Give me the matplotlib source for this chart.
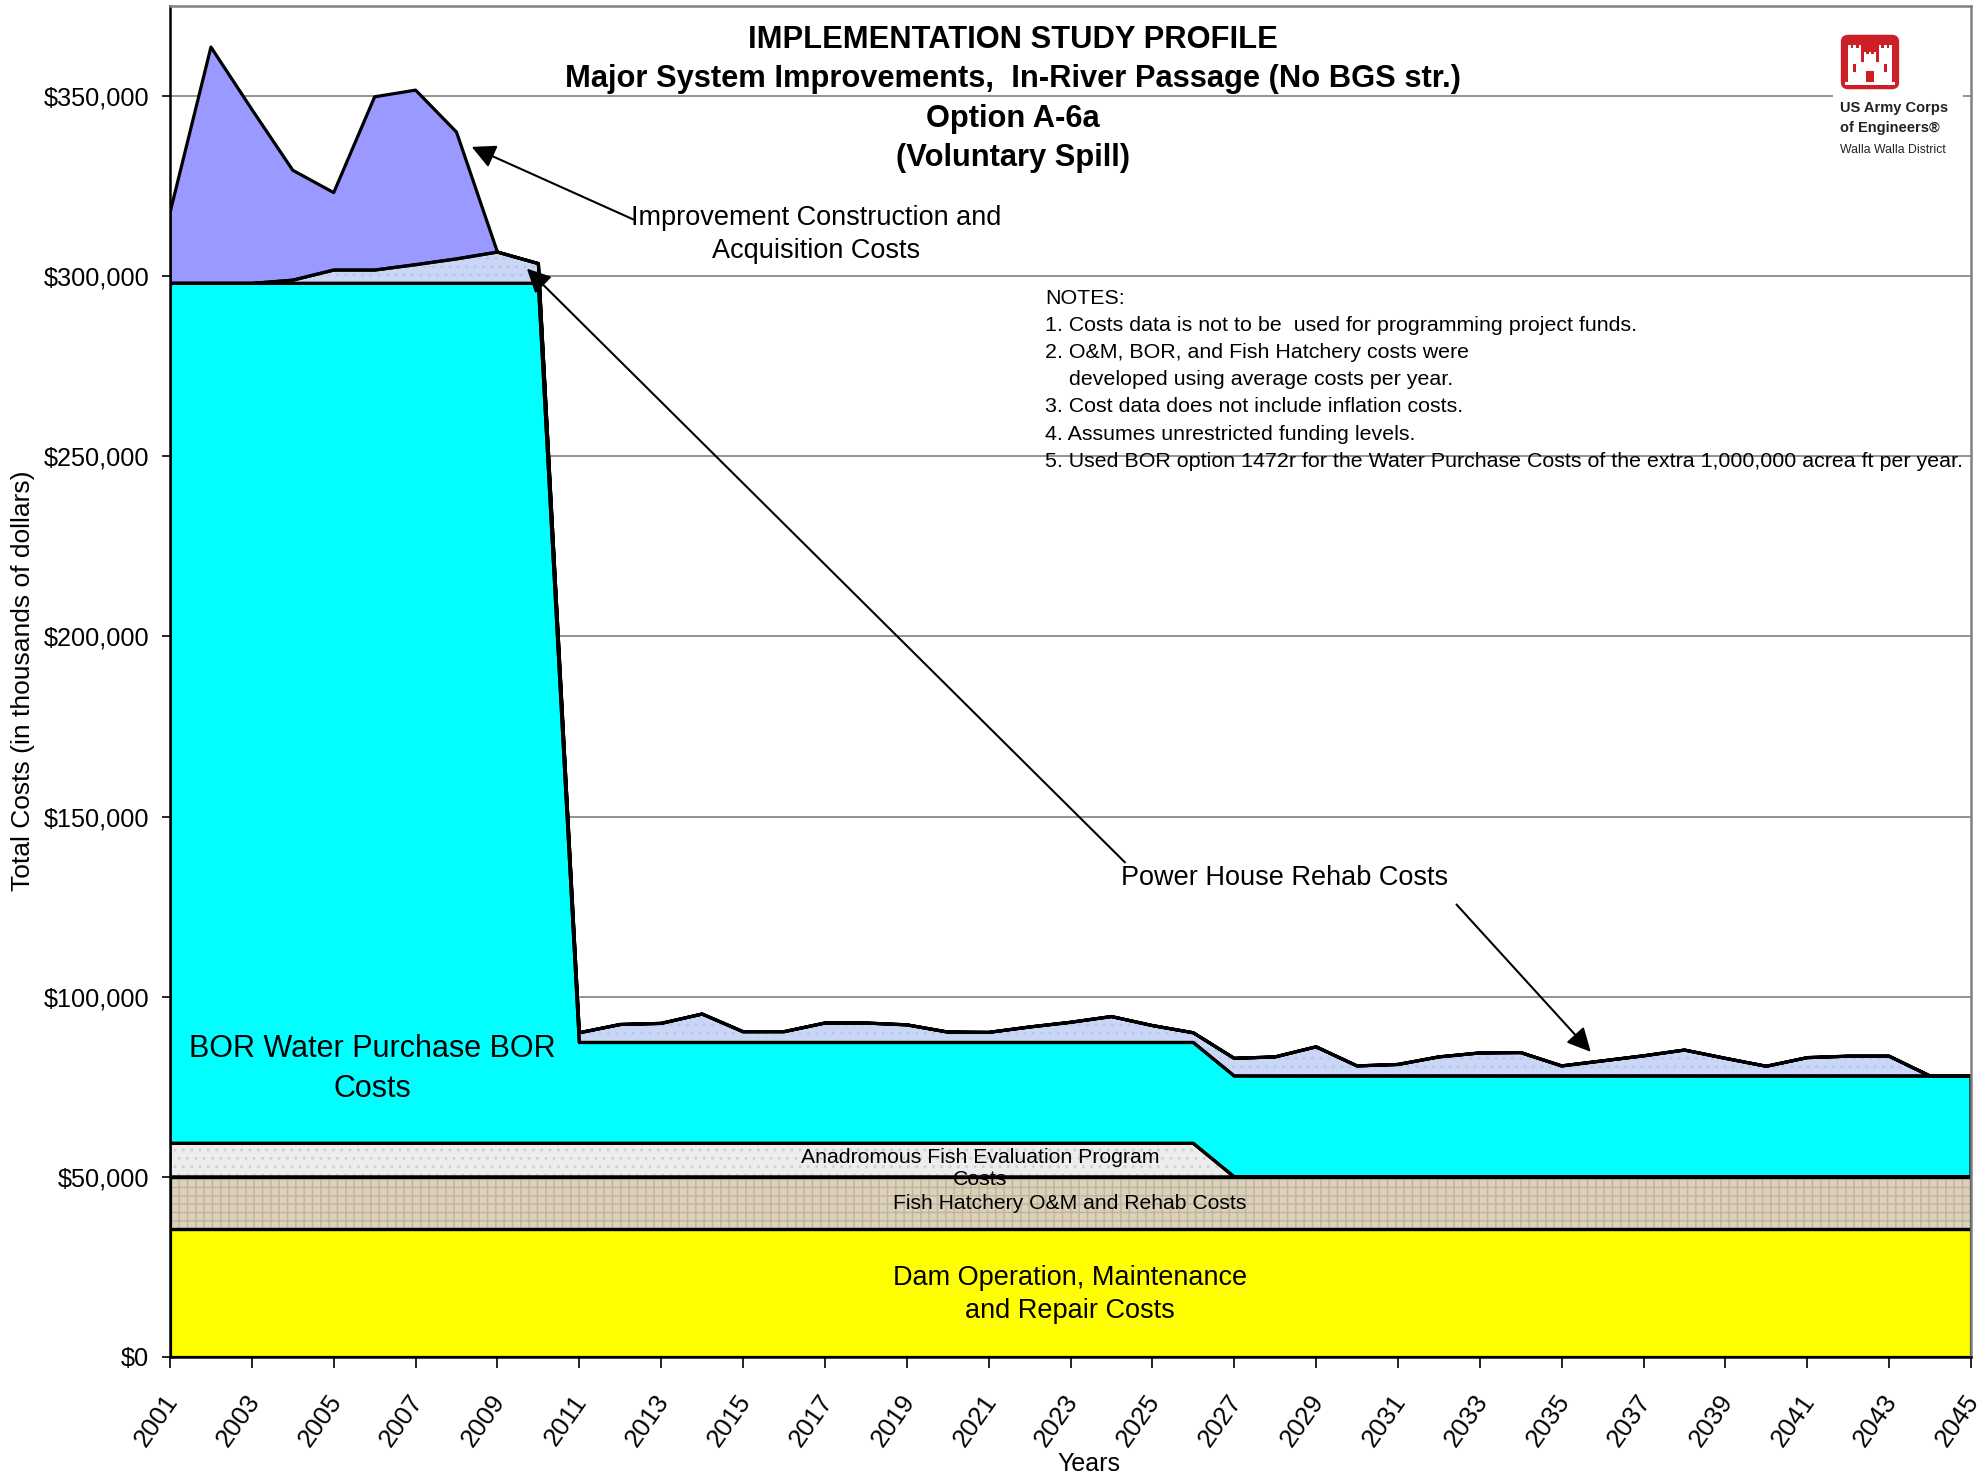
import numpy as np
import matplotlib.pyplot as plt
from matplotlib.patches import Rectangle, FancyBboxPatch, Polygon
from matplotlib.ticker import FuncFormatter, MultipleLocator
from matplotlib.transforms import ScaledTranslation

plt.rcParams['font.family'] = ['Liberation Sans', 'DejaVu Sans']

# %% data (thousands of dollars per year)
years = np.arange(2001, 2046)

dam_om = [35500] * 45
hatchery = [14500] * 45
afep = [9300] * 26 + [0] * 19
bor = [238700] * 10 + [28000] * 35
powerhouse = [0, 0, 0, 900, 3700, 3700, 5200, 6800, 8700, 5500,
              2700, 5000, 5300, 7900, 3000, 3000, 5400, 5400, 4900, 2900,
              2800, 4300, 5600, 7200, 4700, 2700, 4900, 5300, 8100, 2800,
              3200, 5300, 6400, 6500, 2800, 4200, 5600, 7200, 4900, 2700,
              5100, 5500, 5500, 0, 0]
improvement = [19600, 65600, 48300, 30500, 21500, 48100, 48450, 35200, 0, 0] + [0] * 35

layers = [dam_om, hatchery, afep, bor, powerhouse, improvement]
colors = ['#FFFF00', '#DCD1BD', '#EDEDED', '#00FFFF', '#CAD6F6', '#9999FF']

title_lines = ['IMPLEMENTATION STUDY PROFILE',
               'Major System Improvements,  In-River Passage (No BGS str.)',
               'Option A-6a',
               '(Voluntary Spill)']
notes = ['NOTES:',
         '1. Costs data is not to be  used for programming project funds.',
         '2. O&M, BOR, and Fish Hatchery costs were',
         '    developed using average costs per year.',
         '3. Cost data does not include inflation costs.',
         '4. Assumes unrestricted funding levels.',
         '5. Used BOR option 1472r for the Water Purchase Costs of the extra 1,000,000 acrea ft per year.']

# %% plot
W, H = 1986, 1478
fig = plt.figure(figsize=(W / 100, H / 100), dpi=100)
ax = fig.add_axes([170 / W, 1 - 1357 / H, 1801 / W, 1351 / H])

ax.stackplot(years, layers, colors=colors, linewidth=0, zorder=2)

# paper-like textures on the hatchery, evaluation and rehab bands
cum = np.cumsum(np.array(layers), axis=0)
ax.fill_between(years, cum[0], cum[1], facecolor='none', edgecolor='#C2B399',
                hatch='++', linewidth=0, zorder=2.2)
ax.fill_between(years, cum[1], cum[2], facecolor='none', edgecolor='#D2D2D2',
                hatch='..', linewidth=0, zorder=2.2)
ax.fill_between(years, cum[3], cum[4], facecolor='none', edgecolor='#B9C6EE',
                hatch='..', linewidth=0, zorder=2.2)

ax.stackplot(years, layers, colors=['none'] * 6, edgecolor='black',
             linewidth=2.3, zorder=2.4)

ax.set_xlim(2001, 2045)
ax.set_ylim(0, 375000)
ax.yaxis.set_major_locator(MultipleLocator(50000))
ax.yaxis.set_major_formatter(FuncFormatter(lambda v, _: f'${v:,.0f}'))
ax.set_xticks(np.arange(2001, 2046, 2))
ax.tick_params(axis='y', labelsize=18.2, length=6, width=1.2, pad=9)
ax.tick_params(axis='x', labelsize=18.5, length=8, width=1.2, pad=16)
shift = ScaledTranslation(-0.07, 0, fig.dpi_scale_trans)
for lab in ax.get_xticklabels():
    lab.set_rotation(55)
    lab.set_ha('right')
    lab.set_va('top')
    lab.set_rotation_mode('anchor')
    lab.set_transform(lab.get_transform() + shift)

ax.grid(axis='y', color='#808080', linewidth=1.2, zorder=0.5)
ax.set_axisbelow(True)
for side in ['top', 'right']:
    ax.spines[side].set_color('#808080')
    ax.spines[side].set_linewidth(1.8)
for side in ['left', 'bottom']:
    ax.spines[side].set_color('black')
    ax.spines[side].set_linewidth(1.8)

fig.text(23 / W, 1 - 681 / H, 'Total Costs (in thousands of dollars)', rotation=90,
         ha='center', va='center', fontsize=19)
fig.text(1089 / W, 1 - 1464 / H, 'Years', ha='center', va='center', fontsize=18)

# titles
for ty, line in zip([40, 79, 119, 158], title_lines):
    fig.text(1013 / W, 1 - ty / H, line, ha='center', va='center',
             fontsize=22.2, fontweight='bold')

# notes
for i, line in enumerate(notes):
    fig.text(1045 / W, 1 - (298 + i * 27.2) / H, line, ha='left', va='center', fontsize=15.4)

# band labels
ax.text(2005.94, 80000, 'BOR Water Purchase BOR\nCosts', ha='center', va='center',
        fontsize=22, linespacing=1.45, zorder=5)
ax.text(2020.79, 52300, 'Anadromous Fish Evaluation Program\nCosts', ha='center',
        va='center', fontsize=15.3, linespacing=1.2, zorder=5)
ax.text(2022.99, 42600, 'Fish Hatchery O&M and Rehab Costs', ha='center', va='center',
        fontsize=15.2, zorder=5)
ax.text(2022.99, 17400, 'Dam Operation, Maintenance\nand Repair Costs', ha='center',
        va='center', fontsize=19.5, linespacing=1.35, zorder=5)

# callouts
arrow = dict(arrowstyle='-|>', color='black', lw=1.5, mutation_scale=36,
             shrinkA=0, shrinkB=0)
ax.text(2016.78, 311600, 'Improvement Construction and\nAcquisition Costs', ha='center',
        va='center', fontsize=19.5, linespacing=1.35, zorder=5)
ax.annotate('', xy=(2008.37, 335900), xytext=(2012.31, 315800), arrowprops=arrow, zorder=6)
ax.text(2028.22, 132900, 'Power House Rehab Costs', ha='center', va='center',
        fontsize=19.5, zorder=5)
ax.annotate('', xy=(2009.72, 302100), xytext=(2024.33, 137300), arrowprops=arrow, zorder=6)
ax.annotate('', xy=(2035.71, 84700), xytext=(2032.43, 125600), arrowprops=arrow, zorder=6)

# district logo
fig.patches.append(Rectangle((1833 / W, 1 - 160 / H), 130 / W, 135 / H,
                             transform=fig.transFigure, facecolor='white',
                             edgecolor='none', zorder=1))
lax = fig.add_axes([1839 / W, 1 - 91 / H, 62 / W, 58 / H], zorder=5)
lax.set_xlim(0, 1)
lax.set_ylim(0, 1)
lax.axis('off')
red = '#CC1F26'
lax.add_patch(FancyBboxPatch((0.03, 0.03), 0.94, 0.94, boxstyle='round,pad=0,rounding_size=0.12',
                             facecolor=red, edgecolor='none'))
castle = [(0.14, 0.14), (0.86, 0.14), (0.86, 0.8), (0.81, 0.8), (0.81, 0.74), (0.77, 0.74),
          (0.77, 0.8), (0.72, 0.8), (0.72, 0.74), (0.68, 0.74), (0.68, 0.8), (0.64, 0.8),
          (0.64, 0.5), (0.6, 0.5), (0.6, 0.68), (0.56, 0.68), (0.56, 0.63), (0.52, 0.63),
          (0.52, 0.68), (0.48, 0.68), (0.48, 0.63), (0.44, 0.63), (0.44, 0.68), (0.4, 0.68),
          (0.4, 0.5), (0.36, 0.5), (0.36, 0.8), (0.32, 0.8), (0.32, 0.74), (0.28, 0.74),
          (0.28, 0.8), (0.23, 0.8), (0.23, 0.74), (0.19, 0.74), (0.19, 0.8), (0.14, 0.8)]
lax.add_patch(Polygon(castle, closed=True, facecolor='white', edgecolor='none'))
lax.add_patch(Rectangle((0.44, 0.14), 0.12, 0.2, facecolor=red, edgecolor='none'))
for wx in [0.23, 0.73]:
    lax.add_patch(Rectangle((wx, 0.32), 0.04, 0.14, facecolor=red, edgecolor='none'))
lax.add_patch(Rectangle((0.1, 0.1), 0.8, 0.06, facecolor='white', edgecolor='none'))

fig.text(1840 / W, 1 - 108 / H, 'US Army Corps', ha='left', va='center', fontsize=10.5,
         fontweight='bold', color='#222222', zorder=6)
fig.text(1840 / W, 1 - 128 / H, 'of Engineers\u00ae', ha='left', va='center', fontsize=10.5,
         fontweight='bold', color='#222222', zorder=6)
fig.text(1840 / W, 1 - 150 / H, 'Walla Walla District', ha='left', va='center', fontsize=8.8,
         color='#222222', zorder=6)

fig.savefig('out.png', dpi=100)
